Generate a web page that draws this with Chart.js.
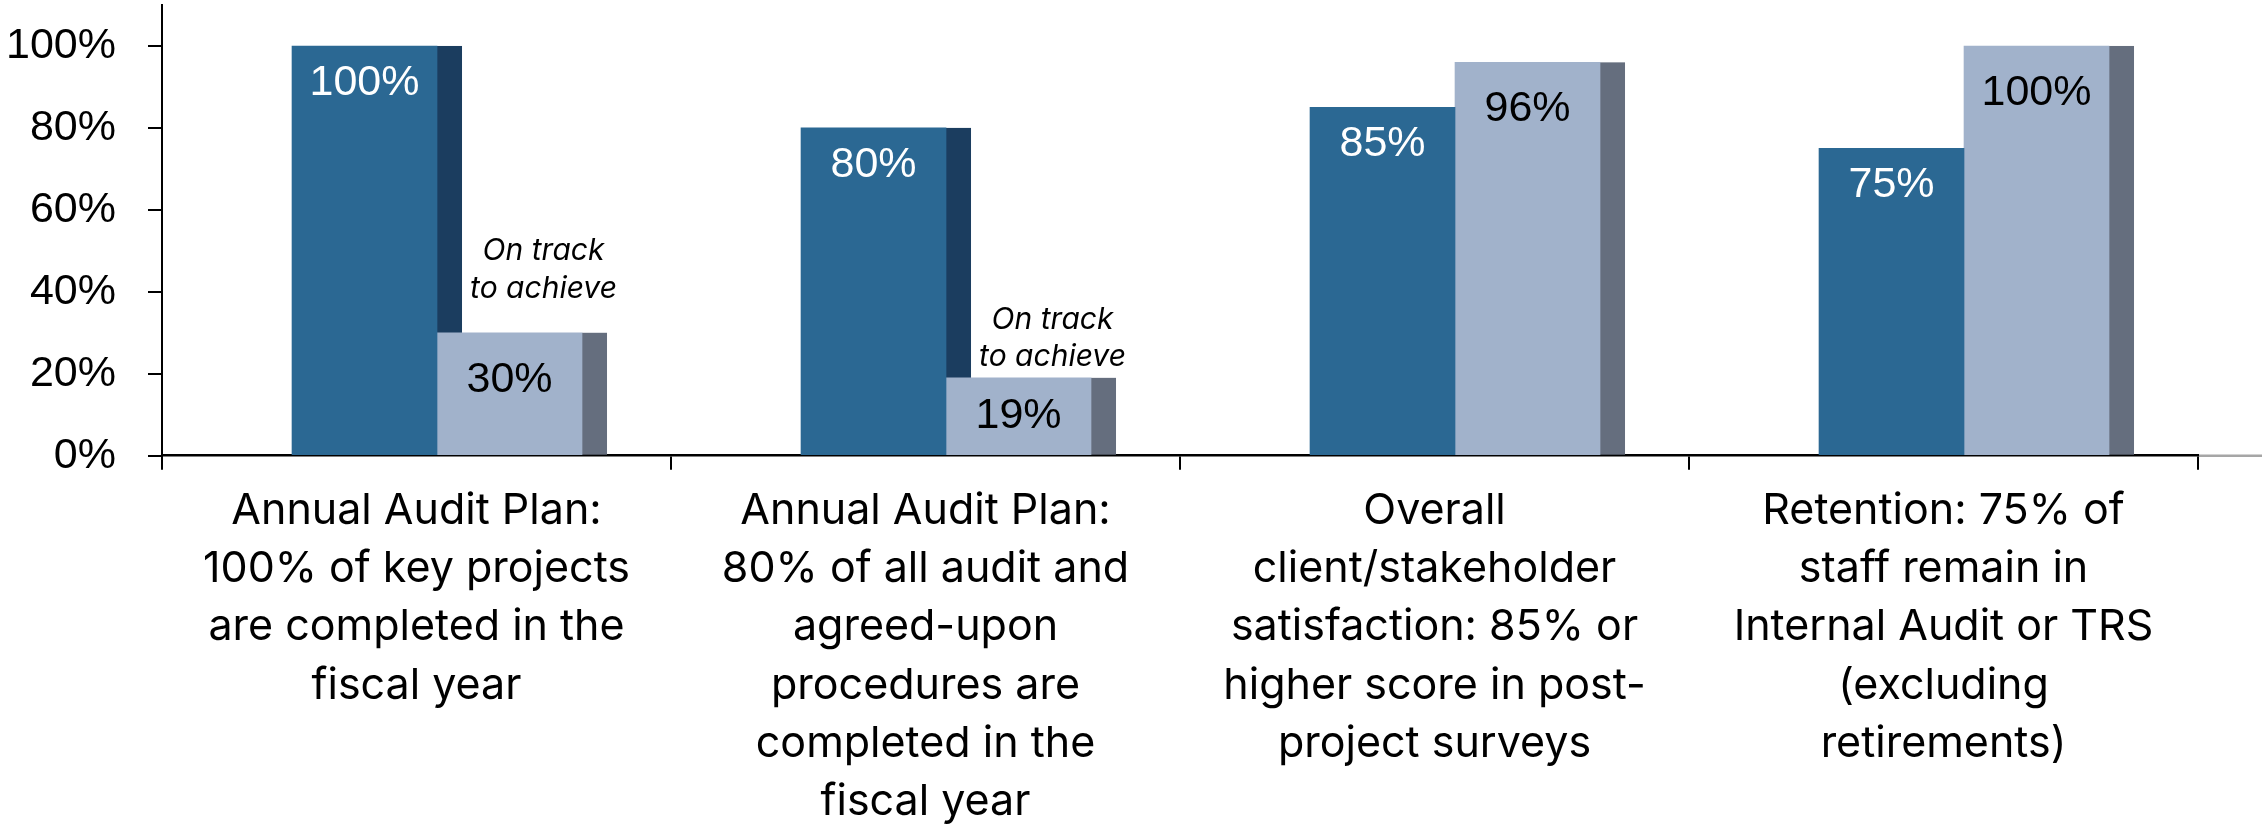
<!DOCTYPE html>
<html>
<head>
<meta charset="utf-8">
<script src="https://cdn.jsdelivr.net/npm/chart.js@4/dist/chart.umd.min.js"></script>
<style>
html,body{margin:0;padding:0;background:#ffffff;}
canvas{display:block;}
</style>
</head>
<body>
<canvas id="chart" width="2262" height="832"></canvas>
<script>
// ---- data ----
const categories = [
  ["Annual Audit Plan:", "100% of key projects", "are completed in the", "fiscal year"],
  ["Annual Audit Plan:", "80% of all audit and", "agreed-upon", "procedures are", "completed in the", "fiscal year"],
  ["Overall", "client/stakeholder", "satisfaction: 85% or", "higher score in post-", "project surveys"],
  ["Retention: 75% of", "staff remain in", "Internal Audit or TRS", "(excluding", "retirements)"]
];
const targetValues = [100, 80, 85, 75];
const actualValues = [30, 19, 96, 100];
const yTickValues = [0, 20, 40, 60, 80, 100];
const noteLines = ["On track", "to achieve"];
const noteCategories = [0, 1];
const noteValues = [38.5, 21.8];

// ---- styles ----
const DARK = '#2b6893', DARK_SIDE = '#1b3d5f';
const LIGHT = '#a1b2cb', LIGHT_SIDE = '#656e7e';
const DEPTH = 25;
const BAR_W = 145;
const SHIFT = 0.0403;

const depthPlugin = {
  id: 'depth',
  beforeDatasetsDraw(chart) {
    const ctx = chart.ctx;
    ctx.save();
    chart.data.datasets.forEach((ds, di) => {
      const meta = chart.getDatasetMeta(di);
      meta.data.forEach(el => {
        const p = el.getProps(['x', 'y', 'base', 'width'], true);
        ctx.fillStyle = ds.sideColor;
        ctx.fillRect(p.x + p.width / 2, p.y, DEPTH, p.base - p.y);
      });
    });
    ctx.restore();
  }
};

const labelPlugin = {
  id: 'valueLabels',
  afterDatasetsDraw(chart) {
    const ctx = chart.ctx;
    ctx.save();
    ctx.font = '43px "Liberation Sans", Arial, sans-serif';
    ctx.textAlign = 'center';
    ctx.textBaseline = 'middle';
    chart.data.datasets.forEach((ds, di) => {
      const meta = chart.getDatasetMeta(di);
      meta.data.forEach((el, i) => {
        const p = el.getProps(['x', 'y', 'base'], true);
        const off = Math.min(ds.labelOffset, (p.base - p.y) / 2);
        ctx.fillStyle = ds.labelColor;
        ctx.fillText(ds.data[i].y + '%', p.x, p.y + off);
      });
    });
    // notes
    const yScale = chart.scales.y;
    const lightMeta = chart.getDatasetMeta(1);
    ctx.font = 'italic 30px Inter, "Liberation Sans", sans-serif';
    ctx.fillStyle = '#000000';
    ctx.textBaseline = 'alphabetic';
    noteCategories.forEach((ci, k) => {
      const el = lightMeta.data[ci];
      const x = el.x + 34;
      const yb = yScale.getPixelForValue(noteValues[k]);
      ctx.fillText(noteLines[0], x, yb - 37.7);
      ctx.fillText(noteLines[1], x, yb);
    });
    ctx.restore();
  },
  afterDraw(chart) {
    const ctx = chart.ctx;
    const a = chart.chartArea;
    ctx.save();
    ctx.strokeStyle = '#a6a6a6';
    ctx.lineWidth = 2.5;
    ctx.beginPath();
    ctx.moveTo(a.right + 1, a.bottom);
    ctx.lineTo(chart.width, a.bottom);
    ctx.stroke();
    ctx.restore();
  }
};

new Chart(document.getElementById('chart'), {
  type: 'bar',
  data: {
    labels: categories,
    datasets: [
      {
        label: 'Target',
        data: targetValues.map((v, i) => ({x: i, y: v})),
        backgroundColor: DARK,
        sideColor: DARK_SIDE,
        labelColor: '#ffffff',
        labelOffset: 37,
        xAxisID: 'xb',
        yAxisID: 'y',
        barThickness: BAR_W,
        borderWidth: 0
      },
      {
        label: 'Actual',
        data: actualValues.map((v, i) => ({x: i, y: v})),
        backgroundColor: LIGHT,
        sideColor: LIGHT_SIDE,
        labelColor: '#000000',
        labelOffset: 47,
        xAxisID: 'xb',
        yAxisID: 'y',
        barThickness: BAR_W,
        borderWidth: 0
      }
    ]
  },
  options: {
    responsive: false,
    animation: false,
    devicePixelRatio: 1,
    events: [],
    layout: { padding: { left: 0, right: 64, top: 5, bottom: 0 } },
    plugins: { legend: { display: false }, tooltip: { enabled: false }, title: { display: false } },
    scales: {
      x: {
        type: 'category',
        position: 'bottom',
        offset: true,
        grid: { offset: true, drawOnChartArea: false, drawTicks: true, tickLength: 14, color: '#000000', lineWidth: 2 },
        border: { display: true, color: '#000000', width: 2.5 },
        ticks: {
          color: '#000000',
          font: { family: 'Inter, "Liberation Sans", sans-serif', size: 43, lineHeight: 1.356 },
          padding: 12,
          maxRotation: 0,
          autoSkip: false
        },
        afterFit(scale) { scale.height = 376.3; scale.paddingLeft = 0; scale.paddingRight = 0; }
      },
      xb: {
        type: 'linear',
        display: false,
        offset: false,
        min: -0.5 - SHIFT,
        max: 3.5 - SHIFT
      },
      y: {
        type: 'linear',
        min: 0,
        max: 110,
        grid: { drawOnChartArea: false, drawTicks: true, tickLength: 14, color: '#000000', lineWidth: 2 },
        border: { display: true, color: '#000000', width: 2 },
        ticks: {
          color: '#000000',
          font: { family: '"Liberation Sans", Arial, sans-serif', size: 43 },
          padding: 32,
          callback: v => v + '%'
        },
        afterBuildTicks(scale) { scale.ticks = yTickValues.map(v => ({value: v})); },
        afterFit(scale) { scale.width = 162; scale.paddingTop = 0; scale.paddingBottom = 0; }
      }
    }
  },
  plugins: [depthPlugin, labelPlugin]
});
</script>
</body>
</html>
